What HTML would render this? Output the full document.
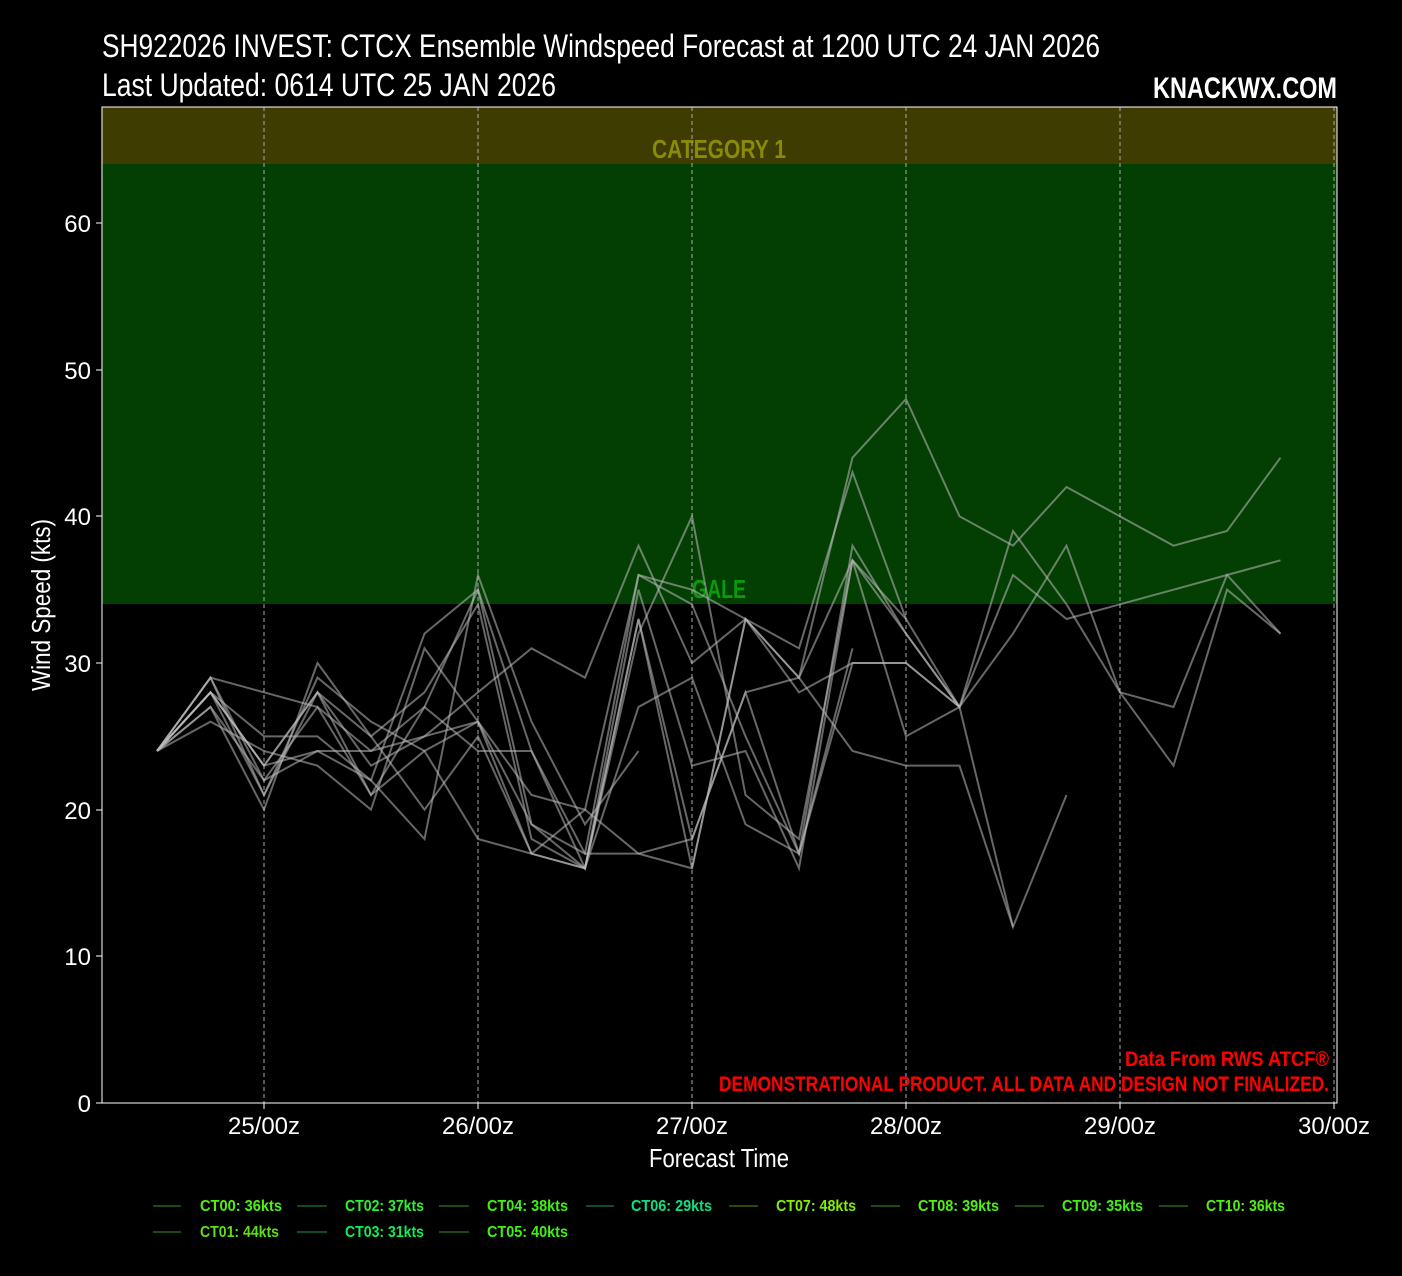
<!DOCTYPE html>
<html><head><meta charset="utf-8"><style>
html,body{margin:0;padding:0;background:#000;width:1402px;height:1276px;overflow:hidden}
svg{display:block}
text{font-family:"Liberation Sans Narrow","Liberation Sans",sans-serif}
</style></head><body>
<svg width="1402" height="1276" viewBox="0 0 1402 1276" xmlns="http://www.w3.org/2000/svg">
<rect width="1402" height="1276" fill="#000"/>
<rect x="102" y="107" width="1235" height="57" fill="#3f3c02"/>
<rect x="102" y="164" width="1235" height="440" fill="#033e03"/>
<text x="719" y="158" text-anchor="middle" font-size="26" font-weight="bold" fill="#8a8a0a" textLength="134" lengthAdjust="spacingAndGlyphs">CATEGORY 1</text>
<text x="719" y="598" text-anchor="middle" font-size="26" font-weight="bold" fill="#0a9a0a" textLength="54" lengthAdjust="spacingAndGlyphs">GALE</text>
<g stroke="#aaa" stroke-width="1" stroke-dasharray="4,3">
<line x1="264" y1="107" x2="264" y2="1103"/><line x1="478" y1="107" x2="478" y2="1103"/><line x1="692" y1="107" x2="692" y2="1103"/><line x1="906" y1="107" x2="906" y2="1103"/><line x1="1120" y1="107" x2="1120" y2="1103"/><line x1="1334" y1="107" x2="1334" y2="1103"/>
</g>
<g transform="translate(157,1103) scale(53.5,-14.667)" fill="none" stroke="#bbb" stroke-opacity="0.55" stroke-width="2" vector-effect="non-scaling-stroke">
<polyline vector-effect="non-scaling-stroke" points="0,24 1,28 2,23 3,28 4,23 5,25 6,26 7,21 8,20 9,36 10,35 11,33 12,29 13,44 14,48 15,40 16,38 17,42 18,40 19,38 20,39 21,44"/>
<polyline vector-effect="non-scaling-stroke" points="0,24 1,29 2,28 3,27 4,24 5,27 6,35 7,19 8,17 9,36 10,34 11,25 12,17 13,38 14,32 15,27 16,39 17,34 18,28 19,27 20,36 21,32"/>
<polyline vector-effect="non-scaling-stroke" points="0,24 1,28 2,25 3,25 4,22 5,32 6,35 7,24 8,16 9,33 10,16 11,33 12,31 13,43 14,33 15,27 16,32 17,38 18,28 19,23 20,35 21,32"/>
<polyline vector-effect="non-scaling-stroke" points="0,24 1,27 2,20 3,30 4,25 5,28 6,34 7,18 8,16 9,32 10,40 11,21 12,18 13,37 14,25 15,27 16,36 17,33 18,34 19,35 20,36 21,37"/>
<polyline vector-effect="non-scaling-stroke" points="0,24 1,26 2,24 3,23 4,20 5,31 6,26 7,17 8,16 9,27 10,29 11,19 12,17 13,31"/>
<polyline vector-effect="non-scaling-stroke" points="0,24 1,28 2,21 3,29 4,26 5,24 6,18 7,17 8,20 9,17 10,18 11,28 12,29 13,24 14,23 15,23 16,12 17,21"/>
<polyline vector-effect="non-scaling-stroke" points="0,24 1,29 2,22 3,24 4,24 5,25 6,28 7,31 8,29 9,38 10,30 11,33 12,28 13,30 14,30 15,27"/>
<polyline vector-effect="non-scaling-stroke" points="0,24 1,28 2,23 3,24 4,22 5,18 6,36 7,26 8,19 9,24"/>
<polyline vector-effect="non-scaling-stroke" points="0,24 1,27 2,22 3,27 4,21 5,27 6,24 7,24 8,17 9,17 10,16 11,33 12,29 13,37 14,32 15,27"/>
<polyline vector-effect="non-scaling-stroke" points="0,24 1,28 2,23 3,28 4,25 5,20 6,25 7,17 8,16 9,35 10,23 11,24 12,16 13,37 14,33"/>
<polyline vector-effect="non-scaling-stroke" points="0,24 1,29 2,21 3,28 4,21 5,24 6,26 7,19 8,16 9,33 10,18 11,28 12,17 13,30 14,30 15,27 16,12"/>
</g>
<rect x="102" y="107" width="1235" height="996" fill="none" stroke="#fff" stroke-width="1"/>
<g stroke="#fff"><line x1="96" y1="1103" x2="102" y2="1103"/><line x1="96" y1="956" x2="102" y2="956"/><line x1="96" y1="810" x2="102" y2="810"/><line x1="96" y1="663" x2="102" y2="663"/><line x1="96" y1="516" x2="102" y2="516"/><line x1="96" y1="370" x2="102" y2="370"/><line x1="96" y1="223" x2="102" y2="223"/>
<line x1="264" y1="1103" x2="264" y2="1109"/><line x1="478" y1="1103" x2="478" y2="1109"/><line x1="692" y1="1103" x2="692" y2="1109"/><line x1="906" y1="1103" x2="906" y2="1109"/><line x1="1120" y1="1103" x2="1120" y2="1109"/><line x1="1334" y1="1103" x2="1334" y2="1109"/></g>
<g fill="#fff" font-size="24" text-anchor="end">
<text x="91" y="1112">0</text><text x="91" y="965">10</text><text x="91" y="819">20</text><text x="91" y="672">30</text><text x="91" y="525">40</text><text x="91" y="379">50</text><text x="91" y="232">60</text>
</g>
<g fill="#fff" font-size="24" text-anchor="middle">
<text x="264" y="1134" textLength="72" lengthAdjust="spacingAndGlyphs">25/00z</text><text x="478" y="1134" textLength="72" lengthAdjust="spacingAndGlyphs">26/00z</text><text x="692" y="1134" textLength="72" lengthAdjust="spacingAndGlyphs">27/00z</text><text x="906" y="1134" textLength="72" lengthAdjust="spacingAndGlyphs">28/00z</text><text x="1120" y="1134" textLength="72" lengthAdjust="spacingAndGlyphs">29/00z</text><text x="1334" y="1134" textLength="72" lengthAdjust="spacingAndGlyphs">30/00z</text>
</g>
<text x="719" y="1167" text-anchor="middle" fill="#fff" font-size="26" textLength="140" lengthAdjust="spacingAndGlyphs">Forecast Time</text>
<text transform="translate(50,605) rotate(-90)" text-anchor="middle" fill="#fff" font-size="26" textLength="172" lengthAdjust="spacingAndGlyphs">Wind Speed (kts)</text>
<text x="102" y="57" fill="#fff" font-size="32" textLength="998" lengthAdjust="spacingAndGlyphs">SH922026 INVEST: CTCX Ensemble Windspeed Forecast at 1200 UTC 24 JAN 2026</text>
<text x="102" y="96" fill="#fff" font-size="32" textLength="454" lengthAdjust="spacingAndGlyphs">Last Updated: 0614 UTC 25 JAN 2026</text>
<text x="1337" y="98" text-anchor="end" fill="#fff" font-size="30" font-weight="bold" textLength="184" lengthAdjust="spacingAndGlyphs">KNACKWX.COM</text>
<text x="1329" y="1066" text-anchor="end" fill="#f00" font-size="21" font-weight="bold" textLength="204" lengthAdjust="spacingAndGlyphs">Data From RWS ATCF®</text>
<text x="1329" y="1091" text-anchor="end" fill="#f00" font-size="21" font-weight="bold" textLength="610" lengthAdjust="spacingAndGlyphs">DEMONSTRATIONAL PRODUCT. ALL DATA AND DESIGN NOT FINALIZED.</text>
<g font-size="16" font-weight="bold">
<line x1="153" y1="1206" x2="181" y2="1206" stroke="#1c4a10" stroke-width="2"/><text x="200" y="1211" fill="#50f010" textLength="82" lengthAdjust="spacingAndGlyphs">CT00: 36kts</text>
<line x1="153" y1="1232" x2="181" y2="1232" stroke="#1c4a10" stroke-width="2"/><text x="200" y="1237" fill="#60e010" textLength="79" lengthAdjust="spacingAndGlyphs">CT01: 44kts</text>
<line x1="297" y1="1206" x2="327" y2="1206" stroke="#104a20" stroke-width="2"/><text x="345" y="1211" fill="#30f030" textLength="79" lengthAdjust="spacingAndGlyphs">CT02: 37kts</text>
<line x1="297" y1="1232" x2="327" y2="1232" stroke="#104a28" stroke-width="2"/><text x="345" y="1237" fill="#10f050" textLength="79" lengthAdjust="spacingAndGlyphs">CT03: 31kts</text>
<line x1="439" y1="1206" x2="469" y2="1206" stroke="#1c4a10" stroke-width="2"/><text x="487" y="1211" fill="#40f010" textLength="81" lengthAdjust="spacingAndGlyphs">CT04: 38kts</text>
<line x1="439" y1="1232" x2="469" y2="1232" stroke="#1c4a10" stroke-width="2"/><text x="487" y="1237" fill="#40f010" textLength="81" lengthAdjust="spacingAndGlyphs">CT05: 40kts</text>
<line x1="586" y1="1206" x2="614" y2="1206" stroke="#104a38" stroke-width="2"/><text x="631" y="1211" fill="#10e080" textLength="81" lengthAdjust="spacingAndGlyphs">CT06: 29kts</text>
<line x1="729" y1="1206" x2="758" y2="1206" stroke="#2a4a08" stroke-width="2"/><text x="776" y="1211" fill="#80f000" textLength="80" lengthAdjust="spacingAndGlyphs">CT07: 48kts</text>
<line x1="871" y1="1206" x2="900" y2="1206" stroke="#1c4a10" stroke-width="2"/><text x="918" y="1211" fill="#50f010" textLength="81" lengthAdjust="spacingAndGlyphs">CT08: 39kts</text>
<line x1="1015" y1="1206" x2="1044" y2="1206" stroke="#1c4a10" stroke-width="2"/><text x="1062" y="1211" fill="#40f010" textLength="81" lengthAdjust="spacingAndGlyphs">CT09: 35kts</text>
<line x1="1159" y1="1206" x2="1188" y2="1206" stroke="#1c4a10" stroke-width="2"/><text x="1206" y="1211" fill="#50f010" textLength="79" lengthAdjust="spacingAndGlyphs">CT10: 36kts</text>
</g>
</svg>
</body></html>
